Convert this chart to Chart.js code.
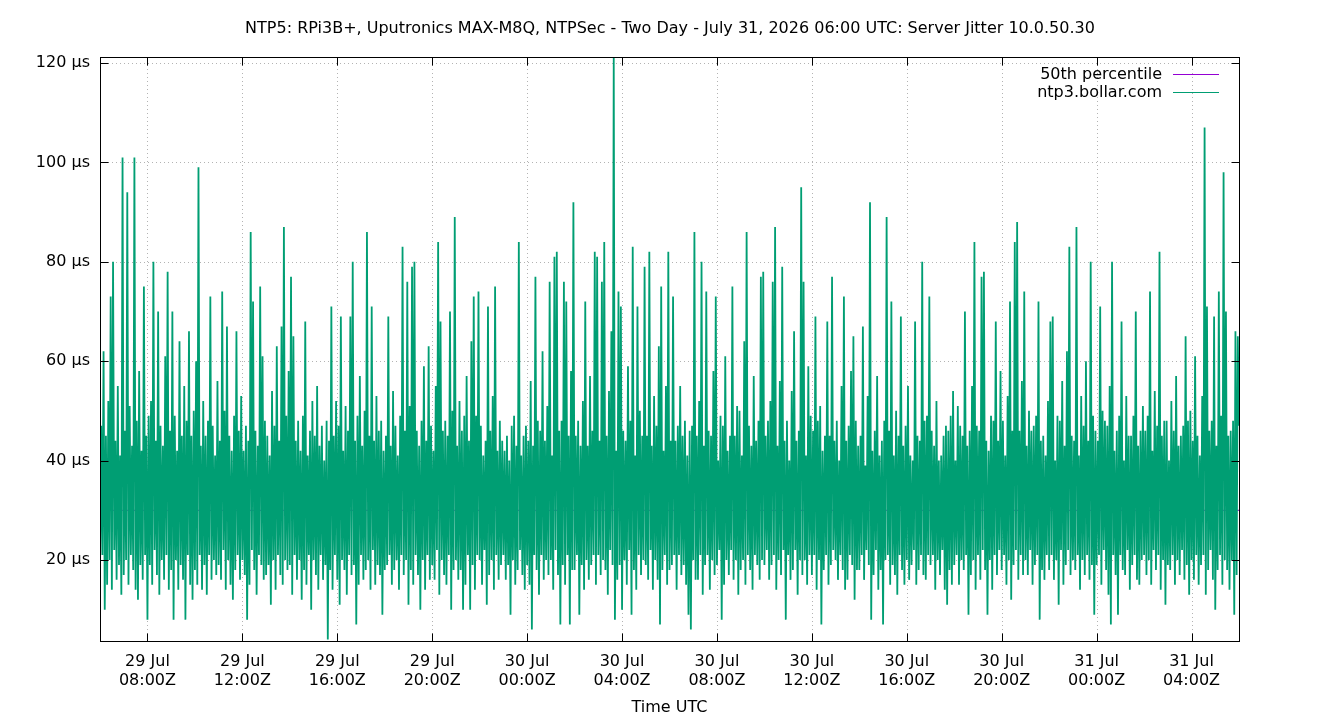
<!DOCTYPE html>
<html>
<head>
<meta charset="utf-8">
<title>Server Jitter 10.0.50.30</title>
<script src="https://cdn.jsdelivr.net/npm/chart.js@4.4.1/dist/chart.umd.min.js"></script>
<style>
  html, body { margin: 0; padding: 0; background: #fff; }
  #jitter-chart { display: block; }
</style>
</head>
<body>
<canvas id="jitter-chart" width="1340" height="720"></canvas>
<script>
// jitter samples in µs, one every 3 minutes from 29 Jul 06:00Z
// one array per 4 hour block, 20 samples per row = 1 hour
var jit29_06 = [18, 47, 21, 62, 10, 45, 15, 52, 20, 73, 14, 80, 22, 44, 16, 55, 19, 41, 13, 101,
                17, 46, 20, 94, 15, 51, 21, 43, 18, 101, 14, 48, 12, 58, 19, 42, 16, 75, 21, 45,
                8, 49, 19, 52, 15, 80, 22, 44, 17, 70, 13, 47, 20, 43, 16, 61, 21, 78, 14, 46,
                18, 70, 8, 49, 20, 42, 14, 64, 19, 45, 16, 55, 8, 48, 21, 66, 15, 45, 12, 50];
var jit29_10 = [18, 60, 15, 99, 21, 43, 14, 52, 19, 45, 13, 48, 21, 73, 16, 47, 20, 41, 17, 56,
                19, 44, 16, 74, 22, 50, 14, 67, 20, 45, 15, 42, 12, 49, 18, 66, 21, 46, 16, 53,
                20, 42, 17, 47, 8, 44, 15, 86, 22, 72, 18, 46, 13, 43, 21, 75, 19, 61, 16, 48,
                17, 45, 19, 41, 11, 54, 20, 47, 14, 63, 21, 44, 17, 67, 15, 87, 20, 49, 18, 58];
var jit29_14 = [19, 77, 13, 65, 21, 44, 16, 48, 20, 42, 12, 49, 18, 68, 15, 41, 21, 46, 10, 52,
                20, 45, 17, 55, 14, 43, 21, 47, 16, 40, 19, 48, 4, 44, 18, 71, 14, 45, 21, 52,
                16, 47, 11, 69, 20, 42, 18, 51, 13, 46, 21, 69, 17, 80, 19, 44, 7, 49, 15, 57,
                21, 43, 16, 50, 18, 86, 20, 45, 14, 71, 22, 44, 15, 53, 19, 46, 17, 48, 9, 42];
var jit29_18 = [18, 45, 19, 69, 21, 43, 15, 54, 18, 47, 20, 41, 14, 49, 21, 83, 17, 46, 20, 76,
                11, 51, 18, 79, 15, 80, 21, 46, 17, 43, 10, 48, 20, 59, 14, 44, 21, 63, 16, 47,
                19, 42, 16, 55, 22, 84, 13, 68, 20, 46, 17, 48, 15, 45, 21, 70, 10, 50, 18, 89,
                20, 43, 16, 52, 18, 46, 10, 49, 15, 57, 21, 44, 10, 64, 19, 73, 14, 49, 21, 74];
var jit29_22 = [20, 47, 15, 41, 22, 44, 11, 71, 17, 46, 20, 53, 14, 75, 21, 42, 16, 48, 19, 44,
                21, 42, 16, 45, 19, 40, 9, 47, 20, 49, 15, 43, 18, 84, 22, 41, 17, 45, 14, 47,
                19, 44, 15, 56, 6, 43, 21, 77, 18, 48, 13, 46, 21, 62, 16, 44, 20, 51, 17, 76,
                20, 41, 14, 81, 22, 82, 17, 46, 7, 48, 19, 76, 15, 72, 21, 45, 7, 58, 18, 92];
var jit30_02 = [18, 45, 21, 48, 9, 43, 19, 52, 14, 72, 20, 43, 16, 57, 19, 46, 21, 82, 15, 81,
                21, 44, 17, 76, 20, 84, 18, 45, 13, 54, 22, 66, 19, 121, 8, 42, 16, 74, 19, 71,
                10, 46, 20, 44, 15, 59, 22, 48, 9, 83, 18, 41, 14, 71, 21, 50, 17, 45, 20, 79,
                19, 45, 16, 82, 22, 43, 14, 53, 20, 47, 16, 63, 7, 75, 18, 42, 21, 55, 15, 82];
var jit30_06 = [18, 44, 19, 73, 21, 44, 14, 47, 21, 55, 17, 45, 19, 48, 15, 41, 9, 46, 6, 47,
                20, 86, 16, 45, 16, 52, 21, 80, 13, 43, 19, 74, 21, 46, 14, 45, 20, 58, 17, 73,
                19, 40, 22, 49, 8, 47, 15, 61, 20, 42, 17, 45, 22, 75, 16, 45, 20, 51, 13, 50,
                18, 41, 20, 64, 15, 86, 21, 47, 18, 43, 14, 57, 21, 44, 19, 48, 16, 77, 20, 78];
var jit30_10 = [19, 45, 22, 48, 16, 52, 19, 76, 21, 87, 14, 43, 20, 56, 17, 79, 22, 44, 8, 48,
                21, 40, 16, 54, 18, 66, 22, 44, 13, 46, 20, 95, 17, 76, 20, 41, 15, 59, 21, 49,
                17, 46, 21, 69, 14, 48, 20, 51, 7, 42, 18, 45, 21, 68, 15, 45, 19, 77, 22, 44,
                20, 48, 16, 40, 21, 55, 18, 73, 14, 44, 16, 47, 21, 58, 19, 65, 12, 48, 18, 43];
var jit30_14 = [18, 45, 21, 67, 16, 39, 22, 53, 19, 92, 8, 42, 17, 46, 22, 57, 14, 41, 18, 44,
                7, 48, 20, 89, 21, 46, 15, 72, 19, 41, 17, 50, 13, 45, 21, 69, 18, 43, 15, 47,
                20, 55, 16, 41, 19, 40, 22, 68, 15, 45, 18, 44, 21, 80, 17, 48, 16, 49, 21, 73,
                19, 46, 21, 43, 14, 52, 20, 40, 17, 41, 22, 45, 14, 47, 11, 46, 18, 49, 15, 54];
var jit30_18 = [19, 40, 21, 51, 15, 47, 20, 45, 18, 70, 21, 43, 9, 46, 17, 55, 20, 84, 14, 47,
                21, 46, 16, 77, 22, 78, 18, 44, 9, 42, 20, 49, 14, 48, 21, 68, 17, 44, 22, 58,
                18, 48, 21, 41, 15, 53, 20, 72, 12, 46, 19, 84, 22, 88, 16, 46, 21, 56, 17, 74,
                20, 43, 17, 50, 22, 46, 15, 47, 19, 49, 21, 72, 8, 44, 18, 45, 16, 41, 21, 52];
var jit30_22 = [18, 68, 21, 69, 16, 40, 20, 49, 11, 48, 22, 56, 15, 43, 19, 62, 22, 83, 17, 45,
                20, 44, 18, 87, 21, 41, 14, 53, 20, 47, 17, 60, 21, 44, 16, 80, 19, 49, 9, 46,
                19, 44, 21, 71, 15, 50, 22, 48, 18, 47, 13, 55, 7, 80, 21, 42, 17, 46, 9, 49,
                21, 68, 18, 40, 17, 53, 22, 45, 14, 45, 19, 49, 21, 70, 16, 43, 15, 46, 20, 51];
var jit31_02 = [21, 46, 17, 49, 20, 74, 15, 42, 22, 54, 18, 47, 21, 82, 14, 45, 20, 48, 11, 48,
                19, 40, 18, 52, 21, 46, 15, 57, 20, 43, 17, 45, 22, 47, 16, 65, 19, 48, 13, 50,
                20, 44, 16, 61, 21, 45, 15, 41, 19, 53, 21, 107, 13, 71, 18, 46, 22, 48, 16, 69,
                10, 43, 18, 74, 21, 49, 15, 98, 20, 70, 18, 45, 14, 46, 20, 48, 9, 66, 17, 65,
                47];

var jitter = [].concat(jit29_06, jit29_10, jit29_14, jit29_18, jit29_22, jit30_02,
                       jit30_06, jit30_10, jit30_14, jit30_18, jit30_22, jit31_02);
var stepMinutes = 3;

// 50th percentile line (µs), start and end of the window (minutes from 29 Jul 06:00Z)
var pctTimes = [0, 2880];
var pctValues = [30, 30];

// x tick labels, every 4 hours starting 08:00Z
var tickMinutes = [120, 360, 600, 840, 1080, 1320, 1560, 1800, 2040, 2280, 2520, 2760];
var tickDays = ['29 Jul', '29 Jul', '29 Jul', '29 Jul', '30 Jul', '30 Jul', '30 Jul', '30 Jul', '30 Jul', '30 Jul', '31 Jul', '31 Jul'];
var tickTimes = ['08:00Z', '12:00Z', '16:00Z', '20:00Z', '00:00Z', '04:00Z', '08:00Z', '12:00Z', '16:00Z', '20:00Z', '00:00Z', '04:00Z'];
var yTicks = [20, 40, 60, 80, 100, 120];

var chartTitle = 'NTP5: RPi3B+, Uputronics MAX-M8Q, NTPSec - Two Day - July 31, 2026 06:00 UTC: Server Jitter 10.0.50.30';
var seriesNames = ['50th percentile', 'ntp3.bollar.com'];
var seriesColors = ['#9400d3', '#009e73'];

var FONT = '"DejaVu Sans", sans-serif';
Chart.defaults.font.family = FONT;
Chart.defaults.color = '#000';

// gnuplot style frame: title, dotted grid, black border, inward ticks, key at top right
var gnuFrame = {
    id: 'gnuFrame',
    beforeDatasetsDraw: function(chart) {
        var ctx = chart.ctx, a = chart.chartArea;
        var xs = chart.scales.x, ys = chart.scales.y;
        ctx.save();
        ctx.font = '16px ' + FONT;
        ctx.fillStyle = '#000';
        ctx.textAlign = 'center';
        ctx.textBaseline = 'middle';
        ctx.fillText(chartTitle, chart.width / 2, 29);

        ctx.strokeStyle = 'rgba(160,160,160,0.8)';
        ctx.lineWidth = 1;
        ctx.setLineDash([1, 3]);
        tickMinutes.forEach(function(m) {
            var px = Math.round(xs.getPixelForValue(m)) + 0.5;
            ctx.beginPath(); ctx.moveTo(px, a.top); ctx.lineTo(px, a.bottom); ctx.stroke();
        });
        yTicks.forEach(function(v) {
            var py = Math.round(ys.getPixelForValue(v)) + 0.5;
            ctx.beginPath(); ctx.moveTo(a.left, py); ctx.lineTo(a.right, py); ctx.stroke();
        });
        ctx.restore();
    },
    afterDatasetsDraw: function(chart) {
        var ctx = chart.ctx, a = chart.chartArea;
        var xs = chart.scales.x, ys = chart.scales.y;
        var L = Math.round(a.left) + 0.5, R = Math.round(a.right) + 0.5;
        var T = Math.round(a.top) + 0.5, B = Math.round(a.bottom) + 0.5;
        ctx.save();
        ctx.strokeStyle = '#000';
        ctx.lineWidth = 1;
        ctx.setLineDash([]);
        ctx.beginPath();
        tickMinutes.forEach(function(m) {
            var px = Math.round(xs.getPixelForValue(m)) + 0.5;
            ctx.moveTo(px, B); ctx.lineTo(px, B - 8);
            ctx.moveTo(px, T); ctx.lineTo(px, T + 8);
        });
        yTicks.forEach(function(v) {
            var py = Math.round(ys.getPixelForValue(v)) + 0.5;
            ctx.moveTo(L, py); ctx.lineTo(L + 8, py);
            ctx.moveTo(R, py); ctx.lineTo(R - 8, py);
        });
        ctx.stroke();
        ctx.strokeRect(L, T, R - L, B - T);

        // key
        ctx.font = '16px ' + FONT;
        ctx.textAlign = 'right';
        ctx.textBaseline = 'middle';
        seriesNames.forEach(function(name, i) {
            var y = 74 + i * 18;
            ctx.fillStyle = '#000';
            ctx.fillText(name, 1162, y + 1);
            ctx.strokeStyle = seriesColors[i];
            ctx.beginPath(); ctx.moveTo(1173, y + 0.5); ctx.lineTo(1219, y + 0.5); ctx.stroke();
        });
        ctx.restore();
    }
};

var ctx = document.getElementById('jitter-chart').getContext('2d');
var jitterChart = new Chart(ctx, {
    type: 'line',
    data: {
        datasets: [{
            label: seriesNames[1],
            data: jitter.map(function(v, i) { return { x: i * stepMinutes, y: v }; }),
            borderColor: seriesColors[1],
            borderWidth: 1.8,
            borderJoinStyle: 'bevel',
            pointRadius: 0,
            tension: 0,
            fill: false,
            order: 1
        }, {
            label: seriesNames[0],
            data: pctTimes.map(function(t, i) { return { x: t, y: pctValues[i] }; }),
            borderColor: seriesColors[0],
            borderWidth: 1,
            pointRadius: 0,
            fill: false,
            order: 2
        }]
    },
    options: {
        responsive: false,
        animation: false,
        layout: { padding: { left: 0, right: 101, top: 57, bottom: 0 } },
        plugins: {
            legend: { display: false },
            tooltip: { enabled: false },
            title: { display: false }
        },
        scales: {
            x: {
                type: 'linear',
                min: 0,
                max: 2880,
                afterBuildTicks: function(scale) {
                    scale.ticks = tickMinutes.map(function(m) { return { value: m }; });
                },
                afterFit: function(scale) { scale.height = 79; },
                ticks: {
                    autoSkip: false,
                    maxRotation: 0,
                    padding: 11,
                    font: { size: 16 },
                    callback: function(value, index) {
                        return [tickDays[index], tickTimes[index]];
                    }
                },
                grid: { display: false, drawTicks: false },
                border: { display: false },
                title: {
                    display: true,
                    text: 'Time UTC',
                    font: { size: 16 },
                    padding: { top: 0, bottom: 3 }
                }
            },
            y: {
                type: 'linear',
                min: 3.7,
                max: 121.2,
                afterBuildTicks: function(scale) {
                    scale.ticks = yTicks.map(function(v) { return { value: v }; });
                },
                afterFit: function(scale) { scale.width = 100; },
                ticks: {
                    padding: 10,
                    font: { size: 16 },
                    callback: function(value) { return value + ' µs'; }
                },
                grid: { display: false, drawTicks: false },
                border: { display: false }
            }
        }
    },
    plugins: [gnuFrame]
});
</script>
</body>
</html>
